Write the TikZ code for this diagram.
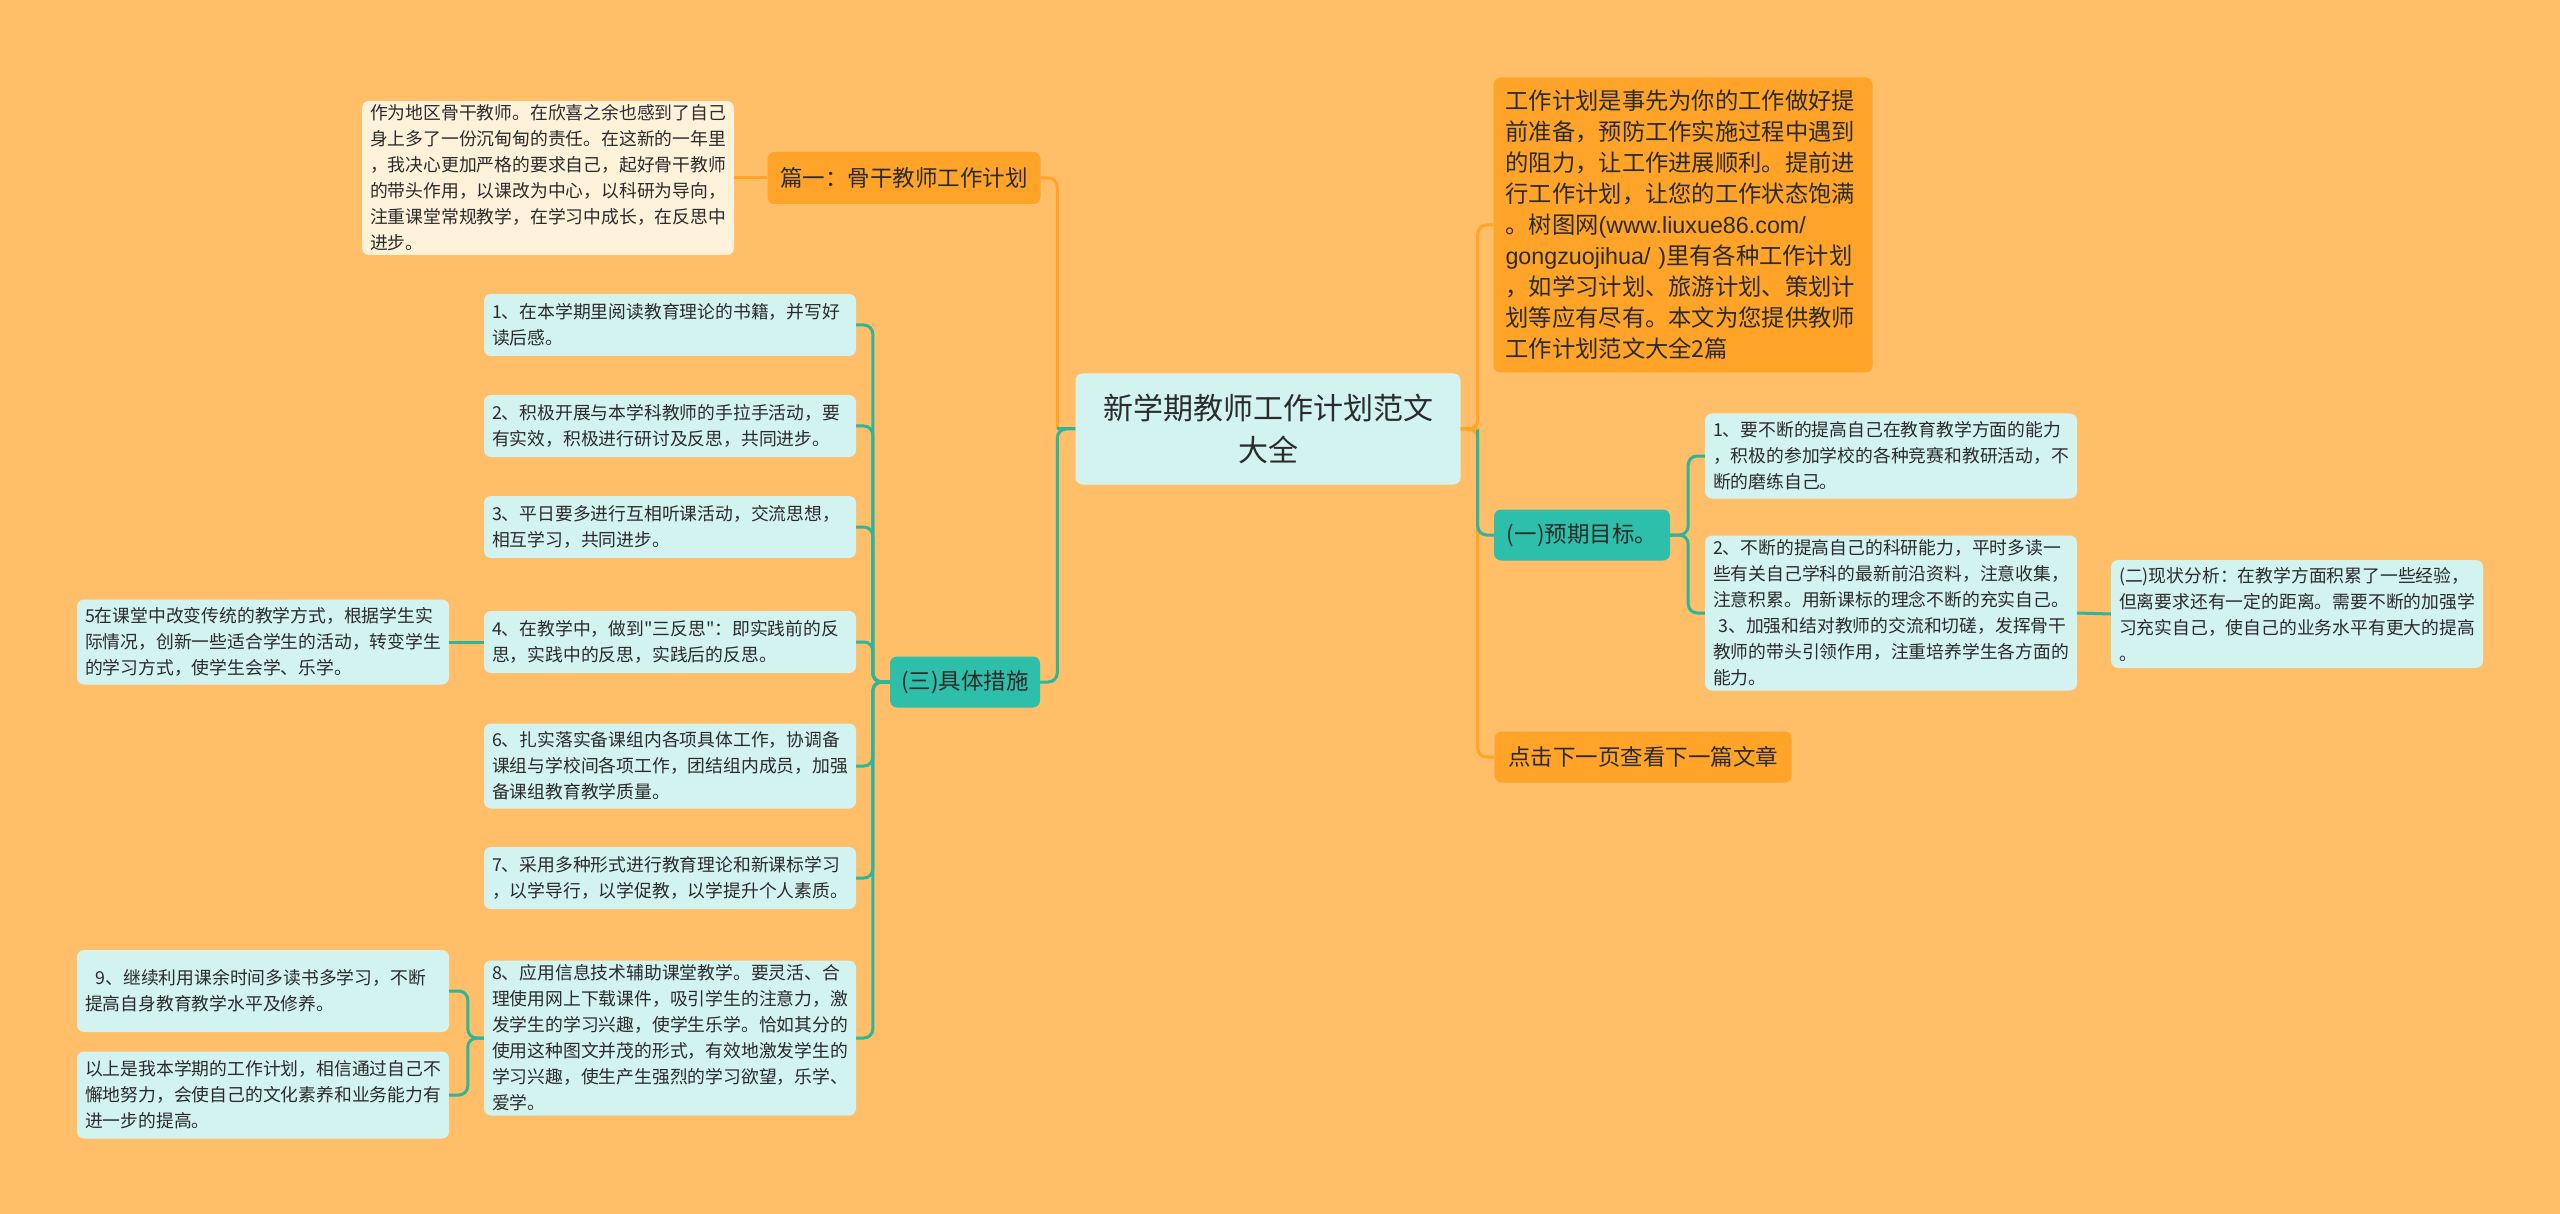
\documentclass[tikz,border=0pt]{standalone}
\usepackage{fontspec}
\setmainfont{Noto Sans CJK SC}
\newfontfamily\latinfont{Liberation Sans}
\newfontfamily\qfont[Ligatures=TeXOff]{Noto Sans CJK SC}
\definecolor{bg}{HTML}{FFBE67}
\definecolor{orn}{HTML}{FFA428}
\definecolor{tealc}{HTML}{2DBFA9}
\definecolor{cyanc}{HTML}{D2F3F0}
\definecolor{cream}{HTML}{FFF2DA}
\definecolor{txt}{HTML}{2B2B2B}
\definecolor{tline}{HTML}{2EB59E}
\definecolor{oline}{HTML}{FFA428}
\tikzset{
  box/.style={rounded corners=7pt, inner ysep=2pt, text=txt, anchor=center},
  item/.style={box, fill=cyanc, align=left, inner xsep=8pt, text width=356pt, minimum width=372pt,
    font=\fontsize{17.8pt}{26pt}\selectfont},
  creambox/.style={item, fill=cream},
  orbox/.style={box, fill=orn, inner xsep=10pt, font=\fontsize{22.5pt}{31pt}\selectfont},
  tlbox/.style={box, fill=tealc, inner xsep=10pt, font=\fontsize{22.5pt}{31pt}\selectfont},
  olink/.style={draw=oline, line width=3pt, rounded corners=9pt},
  tlink/.style={draw=tline, line width=3pt, rounded corners=9pt},
}
\begin{document}
\begin{tikzpicture}[x=1pt,y=-1pt]
\fill[bg] (0,0) rectangle (2560,1214);
\useasboundingbox (0,0) rectangle (2560,1214);

% central
\node[box, fill=cyanc, align=center, minimum width=385pt, minimum height=111pt,
  font=\fontsize{30pt}{42pt}\selectfont] (c) at (1268,429) {新学期教师工作计划范文\\大全};

% left branch
\node[orbox, minimum width=273pt, minimum height=52pt] (p1) at (904,178) {篇一：骨干教师工作计划};
\node[creambox, minimum height=154pt] (p1t) at (548,178) {作为地区骨干教师。在欣喜之余也感到了自己\\身上多了一份沉甸甸的责任。在这新的一年里\\，我决心更加严格的要求自己，起好骨干教师\\的带头作用，以课改为中心，以科研为导向，\\注重课堂常规教学，在学习中成长，在反思中\\进步。};
\node[tlbox, minimum width=150pt, minimum height=51pt] (s3) at (965,682) {(三)具体措施};

\node[item, minimum height=62pt] (i1) at (670,325) {1、在本学期里阅读教育理论的书籍，并写好\\读后感。};
\node[item, minimum height=62pt] (i2) at (670,426) {2、积极开展与本学科教师的手拉手活动，要\\有实效，积极进行研讨及反思，共同进步。};
\node[item, minimum height=62pt] (i3) at (670,527) {3、平日要多进行互相听课活动，交流思想，\\相互学习，共同进步。};
\node[item, minimum height=62pt] (i4) at (670,642) {4、在教学中，做到{\qfont"}三反思{\qfont"}：即实践前的反\\思，实践中的反思，实践后的反思。};
\node[item, minimum height=85pt] (i6) at (670,766) {6、扎实落实备课组内各项具体工作，协调备\\课组与学校间各项工作，团结组内成员，加强\\备课组教育教学质量。};
\node[item, minimum height=62pt] (i7) at (670,878) {7、采用多种形式进行教育理论和新课标学习\\，以学导行，以学促教，以学提升个人素质。};
\node[item, minimum height=155pt] (i8) at (670,1038) {8、应用信息技术辅助课堂教学。要灵活、合\\理使用网上下载课件，吸引学生的注意力，激\\发学生的学习兴趣，使学生乐学。恰如其分的\\使用这种图文并茂的形式，有效地激发学生的\\学习兴趣，使生产生强烈的学习欲望，乐学、\\爱学。};
\node[item, minimum height=85pt] (i5) at (263,642) {5在课堂中改变传统的教学方式，根据学生实\\际情况，创新一些适合学生的活动，转变学生\\的学习方式，使学生会学、乐学。};
\node[item, minimum height=82pt] (i9) at (263,991) {\hspace*{0.6em}9、继续利用课余时间多读书多学习，不断\\提高自身教育教学水平及修养。};
\node[item, minimum height=87pt] (i10) at (263,1095) {以上是我本学期的工作计划，相信通过自己不\\懈地努力，会使自己的文化素养和业务能力有\\进一步的提高。};

% right branch
\node[orbox, align=left, inner xsep=12pt, text width=355pt, minimum width=379pt, minimum height=295pt,
  font=\fontsize{23.3pt}{31pt}\selectfont] (intro) at (1683,225) {工作计划是事先为你的工作做好提\\前准备，预防工作实施过程中遇到\\的阻力，让工作进展顺利。提前进\\行工作计划，让您的工作状态饱满\\。树图网{\latinfont(www.liuxue86.com/}\\\mbox{{\latinfont gongzuojihua/~)}里有各种工作计划}\\，如学习计划、旅游计划、策划计\\划等应有尽有。本文为您提供教师\\工作计划范文大全2篇};
\node[tlbox, minimum width=176pt, minimum height=51pt] (s1) at (1582,535) {(一)预期目标。};
\node[orbox, minimum width=297pt, minimum height=51pt] (nx) at (1643,757) {点击下一页查看下一篇文章};

\node[item, minimum height=85pt] (g1) at (1891,456) {1、要不断的提高自己在教育教学方面的能力\\，积极的参加学校的各种竞赛和教研活动，不\\断的磨练自己。};
\node[item, minimum height=155pt] (g2) at (1891,613) {2、不断的提高自己的科研能力，平时多读一\\些有关自己学科的最新前沿资料，注意收集，\\注意积累。用新课标的理念不断的充实自己。\\\hspace*{0.3em}3、加强和结对教师的交流和切磋，发挥骨干\\教师的带头引领作用，注重培养学生各方面的\\能力。};
\node[item, minimum height=108pt] (s2) at (2297,614) {(二)现状分析：在教学方面积累了一些经验，\\但离要求还有一定的距离。需要不断的加强学\\习充实自己，使自己的业务水平有更大的提高\\。};

% connectors
\draw[tlink] (c.west) -- ++(-18,0) |- (s3.east);
\draw[olink] (c.west) ++(-18,0) |- (p1.east);
\draw[tlink] (c.west) -- ++(-18,0);
\draw[olink] (p1.west) -- (p1t.east);

\draw[tlink] (s3.west) -- ++(-17,0) |- (i1.east);
\draw[tlink] (s3.west) -- ++(-17,0) |- (i2.east);
\draw[tlink] (s3.west) -- ++(-17,0) |- (i3.east);
\draw[tlink] (s3.west) -- ++(-17,0) |- (i4.east);
\draw[tlink] (s3.west) -- ++(-17,0) |- (i6.east);
\draw[tlink] (s3.west) -- ++(-17,0) |- (i7.east);
\draw[tlink] (s3.west) -- ++(-17,0) |- (i8.east);
\draw[tlink] (i4.west) -- (i5.east);
\draw[tlink] (i8.west) -- ++(-16,0) |- (i9.east);
\draw[tlink] (i8.west) -- ++(-16,0) |- (i10.east);

\draw[olink] (c.east) -- ++(17,0) |- (intro.west);
\draw[olink] (c.east) -- ++(17,0) |- (nx.west);
\draw[tlink] (c.east) ++(17,0) |- (s1.west);
\draw[olink] (c.east) -- ++(17,0);
\draw[tlink] (s1.east) -- ++(18,0) |- (g1.west);
\draw[tlink] (s1.east) -- ++(18,0) |- (g2.west);
\draw[tlink] (g2.east) -- (s2.west);
\end{tikzpicture}
\end{document}
